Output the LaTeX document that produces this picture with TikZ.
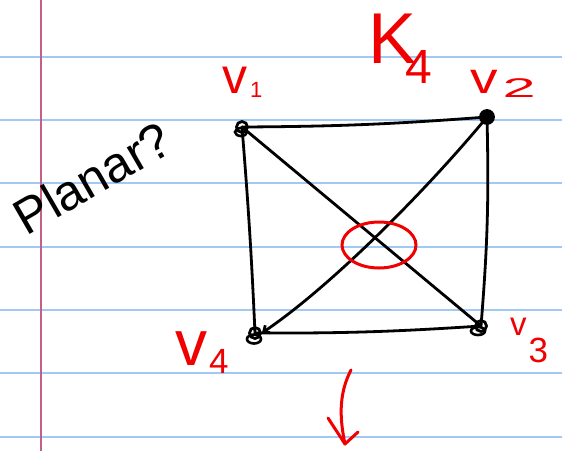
\documentclass[tikz,border=0pt]{standalone}
\usepackage{fontspec}
\setmainfont{Liberation Sans}
\usetikzlibrary{arrows.meta,shapes.geometric}
\definecolor{rule}{RGB}{161,201,243}
\definecolor{margin}{RGB}{196,96,136}
\definecolor{ink}{RGB}{0,0,0}
\definecolor{redink}{RGB}{240,0,0}
\tikzset{
  paperline/.style={draw=rule, line width=2pt},
  marginline/.style={draw=margin, line width=1.4pt},
  edge/.style={draw=ink, line width=2.8pt, line cap=round},
  vtx/.style={circle, draw=ink, line width=2.8pt, minimum size=11pt, inner sep=0pt},
  redstroke/.style={draw=redink, line width=3pt, line cap=round, line join=round},
  lbl/.style={text=redink, inner sep=0pt, anchor=base west}
}
\begin{document}
\begin{tikzpicture}[x=1pt,y=-1pt]
\useasboundingbox (0,0) rectangle (562,451);
\fill[white] (0,0) rectangle (562,451);
% ruled paper
\foreach \yy in {57,120,183,247,310,373,437}
  \draw[paperline] (0,\yy) -- (562,\yy);
\draw[marginline] (41,0) -- (41,451);

% vertices
\node[vtx] (v1) at (242,127) {};
\node[vtx, fill=ink, minimum size=13pt] (v2) at (487,117) {};
\node[vtx] (v3) at (481,326) {};
\node[vtx] (v4) at (255,333) {};
\draw[ink, line width=2.6pt] (v1) ++(-1,5) ellipse[x radius=6pt, y radius=4pt];
\draw[ink, line width=2.6pt] (v3) ++(-3,5) ellipse[x radius=7pt, y radius=4pt];
\draw[ink, line width=2.6pt] (v4) ++(-1,6) ellipse[x radius=7pt, y radius=4.5pt];

% edges
\draw[edge] (v1.center) to[bend right=2] (v2.center);
\draw[edge] (v1.center) to[bend left=1] (v4.center);
\draw[edge] (v2.center) to[bend right=-3] (v3.center);
\draw[edge] (v4.center) to[bend right=2] (v3.center);
\draw[edge] (v1.center) -- (v3.center);
\draw[edge, -{Straight Barb[length=5pt,width=9pt]}] (v2.center) .. controls (425,192) and (330,287) .. (v4.east);

% crossing marked
\node[draw=redink, line width=3pt, ellipse, minimum width=74pt, minimum height=46pt, inner sep=0pt] (cross) at (379,245) {};

% labels
\node[lbl] (k4) at (368,63) {\fontsize{72}{72}\selectfont K\kern-11pt\raisebox{-20pt}{\fontsize{48}{48}\selectfont 4}};
\node[lbl] (l1) at (222,93) {\fontsize{50}{50}\selectfont v\kern3pt\raisebox{-4pt}{\fontsize{22}{22}\selectfont 1}};
\node[lbl] (l2) at (470,93) {\scalebox{1.25}[1]{\fontsize{44}{44}\selectfont v}\kern5pt\raisebox{-4pt}{\scalebox{2.2}[1]{\fontsize{27}{27}\selectfont 2}}};
\node[lbl] (l3) at (510,335) {\fontsize{33}{33}\selectfont v\kern2pt\raisebox{-27pt}{\fontsize{35}{35}\selectfont 3}};
\node[lbl] (l4) at (175,365) {\fontsize{64}{64}\selectfont v\kern2pt\raisebox{-8pt}{\fontsize{35}{35}\selectfont 4}};
\node[text=ink, inner sep=0pt, rotate=30] (planar) at (92,178) {\fontsize{50}{50}\selectfont Planar?};

% down arrow
\coordinate (arrTop) at (351,370);
\coordinate (arrTip) at (345,444);
\coordinate (armL) at (328,418);
\coordinate (armR) at (358,432);
\draw[redstroke] (arrTop) .. controls (338,395) and (340,420) .. (arrTip);
\draw[redstroke] (armL) -- (arrTip) -- (armR);
\end{tikzpicture}
\end{document}
